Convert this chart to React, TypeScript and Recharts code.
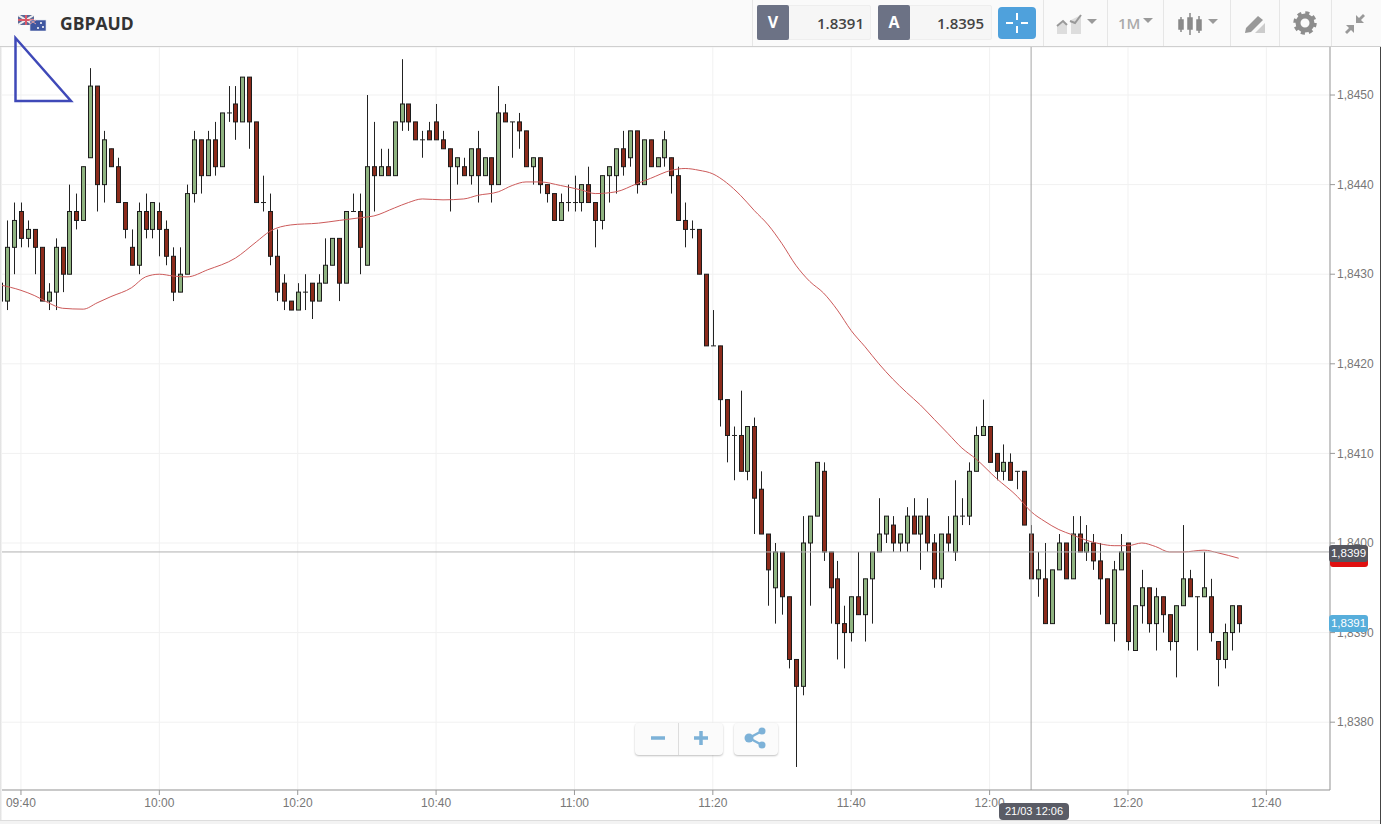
import React from "react";
import { ComposedChart, Bar, Line, XAxis, YAxis, CartesianGrid, ReferenceLine } from "recharts";

const firstMinute = 577; // 09:37
const opens = [
1.8429,1.8427,1.8433,1.8437,1.8434,1.8435,1.8433,1.8427,1.8428,1.8433,1.8430,1.8437,1.8436,
1.8443,1.8451,1.8440,1.8444,1.8442,1.8438,1.8433,1.8431,1.8437,1.8435,1.8437,1.8435,1.8432,1.8428,1.8430,1.8439,1.8445,1.8441,1.8445,1.8442,1.8448,1.8449,1.8447,1.8452,1.8447,1.8438,1.8437,1.8432,1.8429,1.8427,1.8426,1.8428,1.8429,1.8427,1.8429,1.8431,1.8434,1.8429,
1.8437,1.8437,1.8431,1.8442,1.8441,1.8442,1.8441,1.8447,1.8449,1.8447,1.8445,1.8446,1.8447,1.8445,1.8444,1.8442,1.8442,1.8441,1.8444,1.8441,1.8443,1.8440,1.8448,1.8447,1.8447,1.8446,1.8442,1.8443,1.8440,1.8439,1.8436,1.8438,1.8438,1.8438,1.8440,1.8438,1.8436,1.8441,1.8441,1.8444,1.8443,1.8446,1.8440,1.8445,1.8442,1.8443,1.8443,1.8441,1.8436,1.8435,1.8435,1.8430,
1.8422,1.8422,1.8416,1.8412,1.8412,1.8408,1.8413,1.8406,1.8401,1.8395,1.8399,1.8394,1.8387,1.8384,1.8400,1.8403,1.8408,1.8399,1.8396,1.8391,1.8390,1.8394,1.8392,1.8396,1.8399,1.8401,1.8402,1.8400,1.8400,1.8403,1.8401,1.8403,1.8400,1.8396,1.8401,1.8399,1.8403,1.8403,1.8408,1.8412,1.8413,1.8410,1.8408,1.8409,1.8408,1.8408,1.8401,1.8396,1.8396,1.8391,1.8397,1.8400,1.8396,1.8401,1.8399,1.8400,1.8398,1.8396,1.8391,1.8397,1.8400,1.8388,1.8393,1.8395,1.8391,1.8394,1.8392,1.8389,1.8393,1.8396,1.8394,1.8394,1.8394,1.8389,1.8387,1.8390,1.8393,
];
const highs = [
1.8430,1.8436,1.8438,1.8438,1.8436,1.8435,1.8433,1.8429,1.8434,1.8433,1.8440,1.8439,1.8442,
1.8453,1.8451,1.8446,1.8444,1.8443,1.8438,1.8435,1.8438,1.8439,1.8438,1.8438,1.8436,1.8433,1.8433,1.8440,1.8446,1.8445,1.8446,1.8447,1.8448,1.8451,1.8451,1.8452,1.8452,1.8447,1.8441,1.8439,1.8435,1.8430,1.8427,1.8429,1.8430,1.8429,1.8430,1.8434,1.8434,1.8434,1.8437,
1.8439,1.8439,1.8450,1.8447,1.8444,1.8444,1.8447,1.8454,1.8449,1.8447,1.8446,1.8447,1.8449,1.8446,1.8444,1.8443,1.8443,1.8444,1.8446,1.8443,1.8443,1.8451,1.8449,1.8447,1.8448,1.8446,1.8443,1.8443,1.8440,1.8439,1.8439,1.8440,1.8441,1.8440,1.8442,1.8438,1.8441,1.8442,1.8444,1.8446,1.8446,1.8446,1.8445,1.8445,1.8443,1.8446,1.8443,1.8442,1.8438,1.8436,1.8435,1.8430,
1.8426,1.8422,1.8416,1.8413,1.8417,1.8413,1.8414,1.8408,1.8401,1.8400,1.8399,1.8394,1.8387,1.8403,1.8403,1.8409,1.8409,1.8399,1.8398,1.8393,1.8394,1.8399,1.8396,1.8399,1.8405,1.8403,1.8403,1.8401,1.8404,1.8405,1.8403,1.8405,1.8401,1.8401,1.8403,1.8407,1.8405,1.8409,1.8413,1.8416,1.8413,1.8410,1.8411,1.8410,1.8408,1.8408,1.8402,1.8399,1.8400,1.8397,1.8401,1.8400,1.8403,1.8403,1.8402,1.8401,1.8400,1.8396,1.8398,1.8401,1.8400,1.8393,1.8397,1.8395,1.8395,1.8394,1.8392,1.8393,1.8402,1.8397,1.8394,1.8399,1.8396,1.8389,1.8391,1.8393,1.8393,
];
const lows = [
1.8426,1.8426,1.8430,1.8433,1.8433,1.8430,1.8427,1.8426,1.8426,1.8428,1.8430,1.8435,1.8436,
1.8443,1.8437,1.8438,1.8442,1.8438,1.8434,1.8431,1.8430,1.8434,1.8434,1.8432,1.8431,1.8427,1.8428,1.8430,1.8438,1.8439,1.8441,1.8441,1.8442,1.8447,1.8445,1.8447,1.8444,1.8438,1.8437,1.8431,1.8427,1.8426,1.8426,1.8426,1.8426,1.8425,1.8427,1.8429,1.8431,1.8427,1.8429,
1.8437,1.8430,1.8431,1.8437,1.8441,1.8441,1.8441,1.8446,1.8446,1.8445,1.8443,1.8445,1.8445,1.8444,1.8437,1.8440,1.8441,1.8440,1.8438,1.8441,1.8438,1.8440,1.8447,1.8443,1.8444,1.8442,1.8440,1.8439,1.8438,1.8436,1.8436,1.8437,1.8437,1.8437,1.8438,1.8433,1.8435,1.8438,1.8439,1.8441,1.8442,1.8439,1.8440,1.8442,1.8442,1.8442,1.8439,1.8436,1.8433,1.8434,1.8430,1.8422,
1.8422,1.8413,1.8409,1.8407,1.8408,1.8407,1.8401,1.8401,1.8393,1.8391,1.8392,1.8386,1.8375,1.8383,1.8393,1.8403,1.8398,1.8391,1.8387,1.8386,1.8389,1.8392,1.8389,1.8391,1.8399,1.8400,1.8399,1.8399,1.8399,1.8401,1.8397,1.8399,1.8395,1.8395,1.8399,1.8398,1.8402,1.8402,1.8408,1.8412,1.8409,1.8407,1.8407,1.8407,1.8406,1.8402,1.8396,1.8394,1.8391,1.8391,1.8397,1.8396,1.8396,1.8399,1.8398,1.8397,1.8392,1.8391,1.8389,1.8397,1.8388,1.8388,1.8391,1.8390,1.8388,1.8390,1.8388,1.8385,1.8393,1.8394,1.8388,1.8394,1.8389,1.8384,1.8386,1.8388,1.8390,
];
const closes = [
1.8427,1.8433,1.8436,1.8434,1.8435,1.8433,1.8427,1.8428,1.8433,1.8430,1.8437,1.8436,1.8442,
1.8451,1.8440,1.8445,1.8442,1.8438,1.8435,1.8431,1.8437,1.8435,1.8438,1.8435,1.8432,1.8428,1.8430,1.8439,1.8445,1.8441,1.8445,1.8442,1.8448,1.8448,1.8447,1.8452,1.8447,1.8438,1.8438,1.8432,1.8428,1.8427,1.8426,1.8428,1.8428,1.8427,1.8429,1.8431,1.8434,1.8429,1.8437,
1.8437,1.8433,1.8442,1.8441,1.8442,1.8441,1.8447,1.8449,1.8447,1.8445,1.8445,1.8445,1.8445,1.8444,1.8442,1.8443,1.8441,1.8444,1.8441,1.8443,1.8440,1.8448,1.8447,1.8447,1.8446,1.8442,1.8443,1.8440,1.8439,1.8436,1.8438,1.8438,1.8438,1.8440,1.8438,1.8436,1.8441,1.8442,1.8444,1.8442,1.8446,1.8440,1.8445,1.8442,1.8443,1.8445,1.8441,1.8436,1.8435,1.8435,1.8430,1.8422,
1.8422,1.8416,1.8412,1.8412,1.8408,1.8413,1.8405,1.8401,1.8397,1.8399,1.8394,1.8387,1.8384,1.8400,1.8403,1.8409,1.8399,1.8395,1.8391,1.8390,1.8394,1.8392,1.8396,1.8399,1.8401,1.8403,1.8400,1.8401,1.8403,1.8401,1.8403,1.8400,1.8396,1.8401,1.8400,1.8403,1.8403,1.8408,1.8412,1.8413,1.8409,1.8408,1.8409,1.8407,1.8408,1.8402,1.8396,1.8397,1.8391,1.8397,1.8400,1.8396,1.8401,1.8399,1.8400,1.8398,1.8396,1.8391,1.8397,1.8399,1.8389,1.8393,1.8395,1.8391,1.8394,1.8392,1.8389,1.8393,1.8396,1.8394,1.8394,1.8395,1.8390,1.8387,1.8390,1.8393,1.8391,
];
const maMinutes = [577,580,582,584,586,589,591,593,596,598,600,602,604,607,611,614,616,619,623,626,629,631,634,636,638,641,644,646,649,651,653,655,658,661,663,666,669,671,674,676,678,680,682,684,686,688,690,692,694,696,698,700,702,704,706,708,710,712,714,716,718,721,724,726,728,730,732,734,736,738,740,742,744,746,748,751,753,756];
const maValues = [1.84288,1.84282,1.84276,1.84268,1.84262,1.84261,1.84268,1.84275,1.84285,1.84297,1.84300,1.84298,1.84297,1.84305,1.84318,1.84336,1.84348,1.84355,1.84357,1.84360,1.84363,1.84365,1.84374,1.84380,1.84384,1.84383,1.84384,1.84388,1.84392,1.84399,1.84403,1.84403,1.84399,1.84394,1.84390,1.84392,1.84401,1.84407,1.84416,1.84418,1.84416,1.84412,1.84402,1.84388,1.84371,1.84355,1.84334,1.84310,1.84292,1.84279,1.84260,1.84237,1.84219,1.84200,1.84183,1.84168,1.84154,1.84138,1.84122,1.84106,1.84094,1.84072,1.84052,1.84035,1.84024,1.84015,1.84009,1.84003,1.83999,1.83997,1.83997,1.84000,1.83996,1.83990,1.83990,1.83992,1.83989,1.83983];
const xTicks = [580,600,620,640,660,680,700,720,740,760];
const yTicks = [1.838,1.839,1.84,1.841,1.842,1.843,1.844,1.845];

const rows = opens.map((open, i) => {
  const minute = firstMinute + i;
  const m = maMinutes.indexOf(minute);
  return { minute, open, high: highs[i], low: lows[i], close: closes[i], range: [lows[i], highs[i]], ma: m >= 0 ? maValues[m] : null };
});

const fmtTime = (m: number) => `${String(Math.floor(m / 60)).padStart(2, "0")}:${String(m % 60).padStart(2, "0")}`;
const fmtPrice = (v: number) => v.toFixed(4).replace(".", ",");

const Candle = (p: any) => {
  const { x, y, width, height, payload } = p;
  const cx = Math.round(x + width / 2) + 0.5;
  const k = height / (payload.high - payload.low);
  const yo = y + (payload.high - payload.open) * k;
  const yc = y + (payload.high - payload.close) * k;
  const top = Math.min(yo, yc);
  const h = Math.abs(yo - yc);
  const up = payload.close >= payload.open;
  return (
    <g>
      <line x1={cx} x2={cx} y1={y} y2={y + height} stroke="#222" strokeWidth={1} />
      {h < 0.5 ? (
        <line x1={cx - 2.5} x2={cx + 2.5} y1={top} y2={top} stroke="#222" strokeWidth={1} />
      ) : (
        <rect x={cx - 2} y={top} width={4} height={h} fill={up ? "#8fb380" : "#8c2b1b"} stroke="#1c1c1c" strokeWidth={1} />
      )}
    </g>
  );
};

const abs = (left: number, top: number, width: number, height: number, extra: any = {}) => ({ position: "absolute" as const, left, top, width, height, boxSizing: "border-box" as const, ...extra });
const sep = (left: number) => <div style={abs(left, 0, 1, 46, { background: "#e6e6e6" })} />;
const caret = (x: number, y: number) => <div style={{ position: "absolute", left: x, top: y, width: 0, height: 0, borderLeft: "5px solid transparent", borderRight: "5px solid transparent", borderTop: "5px solid #9a9a9a" }} />;

const Header = () => (
  <div style={abs(0, 0, 1381, 47, { background: "#fafafa", borderBottom: "1px solid #cfcfcf", fontFamily: "'Open Sans', sans-serif" })}>
    <svg style={abs(18, 15, 30, 16)} viewBox="0 0 30 16">
      <rect x="0" y="0" width="16" height="10" fill="#5b6a98" />
      <path d="M0 0L16 10M16 0L0 10" stroke="#eee" strokeWidth="2" />
      <path d="M8 0V10M0 5H16" stroke="#d9596a" strokeWidth="2" />
      <rect x="12" y="5" width="16" height="11" fill="#3f56a0" stroke="#dfe3ee" strokeWidth="0.6" />
      <path d="M12 5L18 9M18 5L12 9" stroke="#d9a0a8" strokeWidth="1" />
      <circle cx="23" cy="8" r="1" fill="#fff" /><circle cx="25" cy="12" r="1" fill="#fff" /><circle cx="20" cy="13" r="1" fill="#fff" />
    </svg>
    <div style={{ position: "absolute", left: 60, top: 12, fontWeight: 700, fontSize: 17.5, color: "#333", lineHeight: "23px" }}>GBPAUD</div>
    {sep(752)}{sep(1043)}{sep(1107)}{sep(1163)}{sep(1230)}{sep(1279)}{sep(1331)}
    <div style={abs(757, 5, 114, 35, { background: "#f6f6f6", border: "1px solid #eee", borderRadius: 2 })} />
    <div style={abs(757, 5, 32, 35, { background: "#6c7285", color: "#fff", fontWeight: 700, fontSize: 16, textAlign: "center", lineHeight: "35px", borderRadius: 2 })}>V</div>
    <div style={{ position: "absolute", left: 790, width: 74, top: 5, textAlign: "right", fontSize: 15, fontWeight: 600, color: "#444", lineHeight: "37px" }}>1.8391</div>
    <div style={abs(878, 5, 114, 35, { background: "#f6f6f6", border: "1px solid #eee", borderRadius: 2 })} />
    <div style={abs(878, 5, 32, 35, { background: "#6c7285", color: "#fff", fontWeight: 700, fontSize: 16, textAlign: "center", lineHeight: "35px", borderRadius: 2 })}>A</div>
    <div style={{ position: "absolute", left: 910, width: 74, top: 5, textAlign: "right", fontSize: 15, fontWeight: 600, color: "#444", lineHeight: "37px" }}>1.8395</div>
    <div style={abs(998, 7, 38, 32, { background: "#4fa1dc", borderRadius: 4 })}>
      <svg width="38" height="32"><path d="M19 6V13M19 19V26M8 16H15M23 16H30" stroke="#fff" strokeWidth="2" /></svg>
    </div>
    <svg style={abs(1055, 12, 28, 24)} viewBox="0 0 28 24">
      <path d="M2 22V14L8 10L12 14V22Z" fill="#ddd" /><path d="M16 22V8L26 3V22Z" fill="#ddd" />
      <path d="M2 14L8 9L12 13M15 9L20 11L26 3" stroke="#999" strokeWidth="2" fill="none" />
    </svg>
    {caret(1087, 19)}
    <div style={{ position: "absolute", left: 1118, top: 13, fontSize: 15, fontWeight: 600, color: "#aaa", lineHeight: "20px" }}>1M</div>
    {caret(1143, 18)}
    <svg style={abs(1177, 12, 26, 24)} viewBox="0 0 26 24" stroke="#888" fill="#8a8a8a" strokeWidth="1.5">
      <path d="M4 5V20M13 1V23M22 4V21" fill="none" /><rect x="2" y="8" width="4" height="9" /><rect x="11" y="6" width="4" height="11" /><rect x="20" y="8" width="4" height="10" />
    </svg>
    {caret(1208, 19)}
    <svg style={abs(1243, 13, 24, 22)} viewBox="0 0 24 22">
      <path d="M3 15L15 3L20 7L8 19L2 20Z" fill="#999" /><path d="M12 20H22V10Z" fill="#ccc" />
    </svg>
    <svg style={abs(1293, 11, 24, 24)} viewBox="0 0 24 24">
      <circle cx="12" cy="12" r="7" fill="none" stroke="#8d8d8d" strokeWidth="5" />
      <circle cx="12" cy="12" r="10" fill="none" stroke="#8d8d8d" strokeWidth="3.5" strokeDasharray="4 3.85" />
    </svg>
    <svg style={abs(1343, 12, 24, 24)} viewBox="0 0 24 24" fill="#999">
      <path d="M22 4L16 10L14 8L20 2Z" /><path d="M13 3V11H21Z" />
      <path d="M2 20L8 14L10 16L4 22Z" /><path d="M11 21V13H3Z" />
    </svg>
  </div>
);

const tag = (top: number, bg: string, text: string, color: string) => (
  <div style={abs(1329, top, 39, 17, { background: bg, color, borderRadius: 3, fontFamily: "'Liberation Sans', Arial, sans-serif", fontSize: 11.5, textAlign: "center", lineHeight: "17px" })}>{text}</div>
);

const Controls = () => (
  <>
    <div style={abs(635, 723, 88, 32, { background: "#fbfbfb", borderRadius: 4, boxShadow: "0 1px 2px rgba(0,0,0,.25)" })}>
      <div style={abs(43, 0, 1, 32, { background: "#ddd" })} />
      <svg width="88" height="32"><path d="M16 15H30M59 15H73M66 8V22" stroke="#7db2d8" strokeWidth="3.5" /></svg>
    </div>
    <div style={abs(734, 723, 44, 32, { background: "#fbfbfb", borderRadius: 4, boxShadow: "0 1px 2px rgba(0,0,0,.25)" })}>
      <svg width="44" height="32"><path d="M15 15L28 8M15 15L28 22" stroke="#7db2d8" strokeWidth="2.5" /><circle cx="15" cy="15" r="4.5" fill="#7db2d8" /><circle cx="28" cy="8" r="3.5" fill="#7db2d8" /><circle cx="28" cy="22" r="3.5" fill="#7db2d8" /></svg>
    </div>
  </>
);

export default function App() {
  return (
    <div style={{ position: "absolute", left: 0, top: 0, width: 1381, height: 824, overflow: "hidden", background: "#fff" }}>
      <div style={abs(0, 0, 1381, 824)}>
        <ComposedChart width={1381} height={824} data={rows} margin={{ top: 47, right: 0, bottom: 0, left: 0 }}>
          <CartesianGrid stroke="#f1f1f1" strokeWidth={1} />
          <XAxis dataKey="minute" type="number" domain={[576.97, 769.2]} allowDataOverflow ticks={xTicks} tickFormatter={fmtTime} height={34}
            axisLine={{ stroke: "#999" }} tickLine={{ stroke: "#999" }} tickSize={5} tickMargin={3}
            tick={{ fontFamily: "'Liberation Sans', Arial, sans-serif", fontSize: 12, fill: "#777" }} />
          <YAxis orientation="right" type="number" domain={[1.837243, 1.845536]} allowDataOverflow ticks={yTicks} tickFormatter={fmtPrice} width={51}
            axisLine={{ stroke: "#999" }} tickLine={{ stroke: "#999" }} tickSize={5} tickMargin={2}
            tick={{ fontFamily: "'Liberation Sans', Arial, sans-serif", fontSize: 12, fill: "#777" }} />
          <Bar dataKey="range" barSize={5} shape={Candle} isAnimationActive={false} />
          <Line dataKey="ma" type="monotone" connectNulls dot={false} stroke="#cc5a5a" strokeWidth={1} isAnimationActive={false} />
          <ReferenceLine x={726} stroke="#a5a5a5" strokeWidth={1} />
          <ReferenceLine y={1.8399} stroke="#b0b0b0" strokeWidth={1} />
        </ComposedChart>
      </div>
      <Header />
      <svg style={abs(0, 30, 80, 80, { overflow: "visible" })}>
        <path d="M15.5 8L71 71H15.5Z" fill="none" stroke="#3f49b8" strokeWidth="2.5" />
      </svg>
      <div style={abs(1330, 556, 38, 11, { background: "#e01010", borderRadius: 3 })} />
      {tag(545, "#55565f", "1,8399", "#fff")}
      {tag(615, "#57aedb", "1,8391", "#fff")}
      <Controls />
      <div style={abs(999, 803, 70, 17, { background: "#5a5c66", borderRadius: 4, color: "#fff", fontFamily: "'Liberation Sans', Arial, sans-serif", fontSize: 11, textAlign: "center", lineHeight: "17px" })}>21/03 12:06</div>
      <div style={abs(0, 47, 2, 777, { background: "linear-gradient(to right,#ddd,#f8f8f8)" })} />
      <div style={abs(1380, 47, 1, 777, { background: "#444" })} />
      <div style={abs(0, 820, 1380, 4, { background: "#f3f3f3", borderTop: "1px solid #ddd" })} />
    </div>
  );
}
